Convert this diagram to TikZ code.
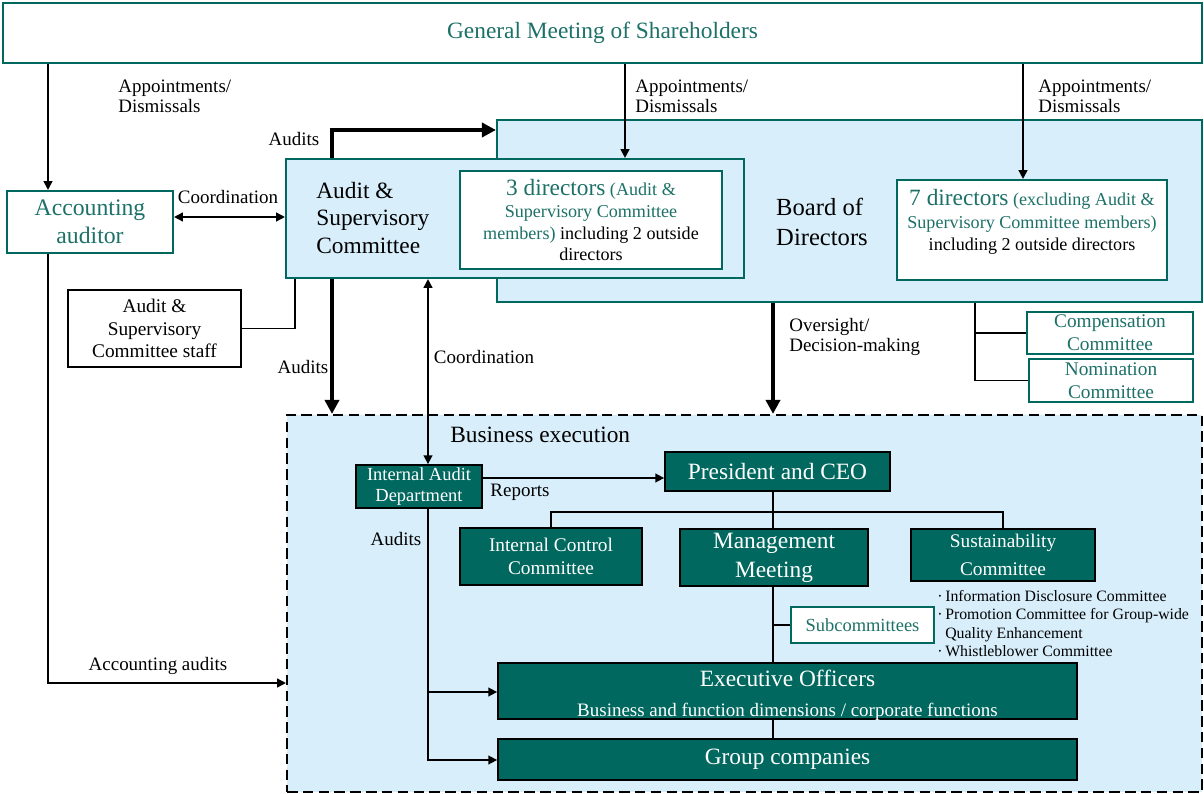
\documentclass[tikz,border=0pt]{standalone}
\usepackage{fontspec}
\setmainfont{Liberation Serif}
\usetikzlibrary{arrows.meta}
\definecolor{govgreen}{HTML}{00685E}
\definecolor{govtext}{HTML}{1D7168}
\definecolor{govblue}{HTML}{D8EEFB}
\newcommand\fsz[2]{\fontsize{#1}{#2}\selectfont}
\tikzset{
  wh/.style n args={2}{minimum width=#1*0.02cm, minimum height=#2*0.02cm},
  outline/.style={draw=govgreen, line width=1.2pt, inner sep=0pt, align=center},
  whitebox/.style={outline, fill=white, text=govtext},
  bluebox/.style={outline, fill=govblue},
  darkbox/.style={draw=black, line width=1pt, fill=govgreen, text=white, inner sep=0pt, align=center},
  line/.style={line width=0.9pt},
  arr/.style={line width=0.9pt, -{Triangle[length=5pt,width=5pt]}},
  darr/.style={line width=0.9pt, {Triangle[length=5pt,width=5pt]}-{Triangle[length=5pt,width=5pt]}},
  thickarr/.style={line width=2.8pt, -{Triangle[length=8pt,width=8pt]}},
  lbl/.style={font=\fsz{10.8}{11.3}, align=left, inner sep=0pt},
}

\begin{document}
\begin{tikzpicture}[x=0.02cm, y=-0.02cm]
			%%%%% START %%%%%
			\useasboundingbox (0,0) rectangle (1204,794);
			
			\node[whitebox, wh={1199}{60}, font=\fsz{13.3}{15}] (gms) at (602.5,33) {General Meeting of Shareholders};
			\node[whitebox, wh={166}{62}, font=\fsz{13.5}{16}] (acc) at (90,222) {Accounting\\auditor};
			
			\node[bluebox, wh={705}{182}] (board) at (849.5,211) {};
			\node[font=\fsz{14}{17.5}, align=left] (boardtxt) at (822,222) {Board of\\Directors};
			
			\node[bluebox, wh={458}{119}] (asc) at (515,218.5) {};
			\node[font=\fsz{13.3}{15.6}, align=left, anchor=west, inner sep=0pt] (asctxt) at (316,218) {Audit \&\\Supervisory\\Committee};
			
			\node[whitebox, wh={262}{98}, font=\fsz{10.3}{12.5}] (dir3) at (591,220) {{\fsz{13.3}{12.5}3 directors} (Audit \&\\Supervisory Committee\\members) \textcolor{black}{including 2 outside}\\\textcolor{black}{directors}};
			
			\node[whitebox, wh={270}{100}] (dir7) at (1032,230) {};
			\node[font=\fsz{10.3}{12.8}, text=govtext, align=center] (dir7txt) at (1032,222) {{\fsz{13.3}{12.8}7 directors} (excluding Audit \&\\Supervisory Committee members)\\\textcolor{black}{including 2 outside directors}};
			
			\node[draw=black, line width=1pt, fill=white, wh={173}{77}, align=center, font=\fsz{11}{13}] (staff) at (154.5,328.5) {Audit \&\\Supervisory\\Committee staff};
			
			\node[whitebox, wh={166}{42}, font=\fsz{11}{13}] (comp) at (1110,333) {Compensation\\Committee};
			\node[whitebox, wh={164}{43}, font=\fsz{11}{13}] (nom) at (1111,380.5) {Nomination\\Committee};
			
			%%%%% BUSINESS EXECUTION %%%%%
			\node[draw=black, dash pattern=on 6pt off 3pt, line width=1.2pt, fill=govblue, wh={915}{377}] (biz) at (744.5,603.5) {};
			\node[font=\fsz{13.3}{15}, anchor=west, inner sep=0pt] (biztxt) at (450,435) {Business execution};
			
			\node[darkbox, wh={126}{43}, font=\fsz{10.5}{12}] (iad) at (419,486.5) {Internal Audit\\Department};
			\node[darkbox, wh={225}{39}, font=\fsz{13.3}{15}] (ceo) at (777.5,471.5) {President and CEO};
			\node[darkbox, wh={182}{57}, font=\fsz{11}{13.5}] (icc) at (551,556.5) {Internal Control\\Committee};
			\node[darkbox, wh={188}{57}, font=\fsz{13.3}{16.5}] (mgmt) at (774,557.5) {Management\\Meeting};
			\node[darkbox, wh={184}{52}, font=\fsz{11}{15.5}] (sus) at (1003,555) {Sustainability\\Committee};
			\node[whitebox, wh={143}{36}, font=\fsz{10.5}{12}] (sub) at (862.5,625) {Subcommittees};
			\node[font=\fsz{9}{10.5}, align=left, anchor=north west, inner sep=0pt] (sublist) at (937,590) {·\,Information Disclosure Committee\\·\,Promotion Committee for Group-wide\\\phantom{·\,}Quality Enhancement\\·\,Whistleblower Committee};
			\node[darkbox, wh={579}{56}] (exec) at (787.5,691) {};
			\node[text=white, align=center, font=\fsz{13.3}{17}] (exectxt) at (787.5,695) {Executive Officers\\{\fsz{10.8}{17}Business and function dimensions / corporate functions}};
			\node[darkbox, wh={579}{41}, font=\fsz{13.3}{15}] (grp) at (787.5,759.5) {Group companies};
			
			%%%%% CONNECTORS %%%%%
			\draw[arr] (gms.south -| 48,0) -- (acc.north -| 48,0);
			\draw[arr] (gms.south -| 625,0) -- (asc.north -| 625,0);
			\draw[arr] (gms.south -| 1023,0) -- (dir7.north -| 1023,0);
			\node[lbl, anchor=west] (apL) at (118,96) {Appointments/\\Dismissals};
			\node[lbl, anchor=west] (apM) at (635,96) {Appointments/\\Dismissals};
			\node[lbl, anchor=west] (apR) at (1038,96) {Appointments/\\Dismissals};
			
			\draw[darr] (acc.east |- 0,217) -- (asc.west |- 0,217);
			\node[lbl] (coordA) at (228,197) {Coordination};
			
			\draw[thickarr] (asc.north -| 332,0) |- (board.west |- 0,130);
			\node[lbl] (audA) at (294,139) {Audits};
			
			\draw[line] (staff.east) -| (asc.south -| 295,0);
			
			\draw[thickarr] (asc.south -| 332,0) -- (biz.north -| 332,0);
			\node[lbl] (audB) at (303,367) {Audits};
			
			\draw[darr] (asc.south -| 428,0) -- (iad.north -| 428,0);
			\node[lbl] (coordB) at (484,357) {Coordination};
			
			\draw[thickarr] (board.south -| 773,0) -- (biz.north -| 773,0);
			\node[lbl, anchor=west] (ovs) at (789,337) {Oversight/\\Decision-making};
			
			\draw[line] (board.south -| 975,0) |- (nom.west);
			\draw[line] (comp.west) -- (comp.west -| 975,0);
			
			\draw[arr] (acc.south -| 48,0) |- (biz.west |- 0,683);
			\node[lbl] (accaud) at (158,666) {Accounting audits};
			
			\draw[arr] (iad.east |- 0,478) -- (ceo.west |- 0,478);
			\node[lbl] (rep) at (520,492) {Reports};
			
			\coordinate (bus) at (773,512);
			\draw[line] (ceo.south -| 773,0) -- (mgmt.north -| 773,0);
			\draw[line] (icc.north) |- (bus) -| (sus.north);
			\draw[line] (mgmt.south -| 773,0) -- (exec.north -| 773,0);
			\draw[line] (sub.west) -- (sub.west -| 773,0);
			\draw[line] (exec.south -| 773,0) -- (grp.north -| 773,0);
			
			\draw[arr] (iad.south -| 428,0) |- (grp.west |- 0,760);
			\draw[arr] (428,692) -- (exec.west |- 0,692);
			\node[lbl] (audC) at (396,539) {Audits};
			%%%%% END %%%%%
\end{tikzpicture}
\end{document}
